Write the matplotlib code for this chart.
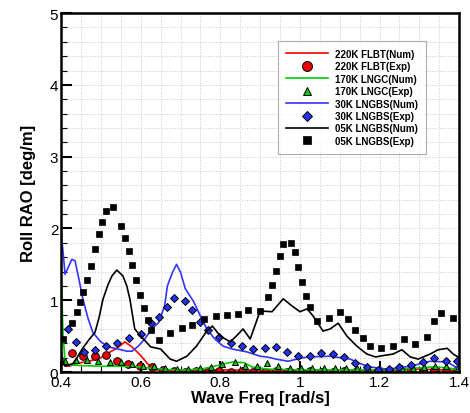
import matplotlib
matplotlib.use("Agg")
import matplotlib.pyplot as plt
from matplotlib.ticker import MultipleLocator

plt.rcParams['font.family'] = ['Liberation Sans', 'DejaVu Sans']

# 220K FLBT
flbt_num_x = [0.4, 0.405, 0.42, 0.44, 0.47, 0.5, 0.52, 0.54, 0.56, 0.578, 0.6, 0.618, 0.636,
              0.7, 0.8, 0.9, 1.0, 1.1, 1.2, 1.3, 1.4]
flbt_num_y = [0.15, 0.1, 0.08, 0.12, 0.15, 0.2, 0.27, 0.33, 0.42, 0.35, 0.23, 0.11, 0.03,
              0.02, 0.03, 0.02, 0.02, 0.03, 0.02, 0.04, 0.02]
flbt_exp_x = [0.428, 0.455, 0.485, 0.513, 0.54, 0.568, 0.598, 0.628, 0.655, 0.683, 0.712,
              0.74, 0.768, 0.797, 0.826, 0.855, 0.883, 0.912, 0.94, 0.968, 0.996, 1.025,
              1.053, 1.083, 1.11, 1.138, 1.168, 1.196, 1.224, 1.25, 1.28, 1.31, 1.337,
              1.367, 1.395]
flbt_exp_y = [0.26, 0.22, 0.22, 0.24, 0.15, 0.11, 0.08, 0.07, 0.03, 0.01, 0.0, 0.01, 0.0,
              0.02, 0.0, 0.01, 0.0, 0.0, 0.01, 0.0, 0.0, 0.02, 0.0, 0.0, 0.01, 0.0, 0.0,
              0.01, 0.02, 0.0, 0.03, 0.02, 0.03, 0.02, 0.03]

# 170K LNGC
lngc_num_x = [0.4, 0.405, 0.41, 0.42, 0.45, 0.5, 0.55, 0.6, 0.63, 0.68, 0.72, 0.76, 0.8,
              0.83, 0.86, 0.88, 0.92, 1.0, 1.1, 1.2, 1.28, 1.33, 1.37, 1.4]
lngc_num_y = [1.4, 0.5, 0.15, 0.1, 0.09, 0.08, 0.08, 0.07, 0.05, 0.03, 0.03, 0.05, 0.1,
              0.14, 0.13, 0.07, 0.04, 0.03, 0.03, 0.03, 0.05, 0.07, 0.06, 0.03]
lngc_exp_x = [0.41, 0.438, 0.465, 0.493, 0.523, 0.55, 0.578, 0.606, 0.634, 0.662, 0.69, 0.72,
              0.748, 0.776, 0.805, 0.837, 0.862, 0.893, 0.918, 0.946, 0.975, 1.003, 1.03,
              1.06, 1.088, 1.116, 1.144, 1.172, 1.2, 1.228, 1.256, 1.284, 1.312, 1.34,
              1.368, 1.396]
lngc_exp_y = [0.15, 0.17, 0.17, 0.15, 0.14, 0.14, 0.11, 0.08, 0.08, 0.05, 0.04, 0.04, 0.05,
              0.07, 0.11, 0.14, 0.09, 0.08, 0.12, 0.08, 0.06, 0.05, 0.05, 0.05, 0.06, 0.05,
              0.05, 0.04, 0.04, 0.03, 0.05, 0.06, 0.07, 0.09, 0.08, 0.06]

# 30K LNGBS
lngbs30_num_x = [0.4, 0.41, 0.418, 0.427, 0.435, 0.443, 0.455, 0.468, 0.48, 0.498, 0.518,
                 0.543, 0.565, 0.578, 0.594, 0.61, 0.628, 0.645, 0.66, 0.667, 0.68, 0.69,
                 0.7, 0.712, 0.732, 0.75, 0.766, 0.786, 0.807, 0.83, 0.867, 0.9, 0.917,
                 0.94, 0.97, 1.0, 1.02, 1.075, 1.126, 1.15, 1.176, 1.22, 1.277, 1.327,
                 1.37, 1.4]
lngbs30_num_y = [1.96, 1.36, 1.46, 1.57, 1.55, 1.34, 1.01, 0.74, 0.55, 0.43, 0.35, 0.32,
                 0.29, 0.29, 0.36, 0.46, 0.6, 0.69, 0.92, 1.2, 1.39, 1.5, 1.39, 1.16, 0.99,
                 0.78, 0.6, 0.46, 0.36, 0.32, 0.28, 0.22, 0.21, 0.18, 0.15, 0.19, 0.21,
                 0.22, 0.18, 0.12, 0.07, 0.04, 0.08, 0.15, 0.14, 0.04]
lngbs30_exp_x = [0.418, 0.438, 0.458, 0.485, 0.513, 0.54, 0.57, 0.6, 0.626, 0.646, 0.666,
                 0.684, 0.712, 0.73, 0.75, 0.768, 0.797, 0.826, 0.855, 0.883, 0.912, 0.94,
                 0.968, 0.996, 1.025, 1.053, 1.083, 1.11, 1.138, 1.168, 1.196, 1.224, 1.25,
                 1.28, 1.31, 1.337, 1.367, 1.395]
lngbs30_exp_y = [0.6, 0.42, 0.28, 0.31, 0.36, 0.40, 0.47, 0.53, 0.68, 0.77, 0.91, 1.03,
                 0.99, 0.86, 0.7, 0.58, 0.49, 0.40, 0.36, 0.32, 0.33, 0.35, 0.28, 0.22,
                 0.22, 0.26, 0.25, 0.21, 0.13, 0.07, 0.03, 0.04, 0.07, 0.1, 0.14, 0.19,
                 0.15, 0.15]

# 05K LNGBS
lngbs05_num_x = [0.4, 0.405, 0.41, 0.42, 0.43, 0.44, 0.453, 0.47, 0.485, 0.495, 0.505,
                 0.518, 0.528, 0.54, 0.555, 0.565, 0.573, 0.585, 0.6, 0.625, 0.65, 0.674,
                 0.69, 0.716, 0.74, 0.766, 0.78, 0.8, 0.825, 0.84, 0.857, 0.875, 0.9,
                 0.93, 0.958, 0.98, 1.0, 1.018, 1.033, 1.058, 1.076, 1.096, 1.118, 1.143,
                 1.168, 1.19, 1.21, 1.234, 1.256, 1.277, 1.297, 1.327, 1.347, 1.37, 1.385,
                 1.4]
lngbs05_num_y = [0.3, 0.15, 0.08, 0.1, 0.12, 0.2, 0.32, 0.45, 0.55, 0.75, 1.01, 1.22,
                 1.34, 1.42, 1.34, 1.2, 1.01, 0.6, 0.5, 0.35, 0.32, 0.18, 0.15, 0.22,
                 0.36, 0.57, 0.64, 0.5, 0.42, 0.5, 0.6, 0.46, 0.85, 0.84, 1.02, 0.92,
                 0.84, 0.88, 0.78, 0.57, 0.6, 0.68, 0.5, 0.36, 0.25, 0.21, 0.23, 0.25,
                 0.31, 0.21, 0.18, 0.25, 0.31, 0.33, 0.25, 0.2]
lngbs05_exp_x = [0.405, 0.428, 0.44, 0.447, 0.455, 0.465, 0.475, 0.485, 0.495, 0.503,
                 0.513, 0.53, 0.55, 0.56, 0.57, 0.578, 0.588, 0.598, 0.608, 0.618, 0.627,
                 0.646, 0.674, 0.703, 0.73, 0.76, 0.79, 0.817, 0.845, 0.87, 0.9, 0.92,
                 0.93, 0.94, 0.95, 0.958, 0.978, 0.988, 0.995, 1.005, 1.015, 1.025, 1.043,
                 1.073, 1.1, 1.12, 1.138, 1.158, 1.176, 1.204, 1.234, 1.262, 1.29, 1.32,
                 1.337, 1.355, 1.385]
lngbs05_exp_y = [0.46, 0.68, 0.84, 0.97, 1.11, 1.28, 1.47, 1.71, 1.92, 2.09, 2.24, 2.30,
                 2.03, 1.87, 1.69, 1.49, 1.28, 1.07, 0.89, 0.72, 0.58, 0.45, 0.54, 0.61,
                 0.65, 0.74, 0.78, 0.79, 0.81, 0.86, 0.85, 1.05, 1.21, 1.41, 1.62, 1.78,
                 1.80, 1.67, 1.46, 1.25, 1.06, 0.91, 0.71, 0.75, 0.84, 0.74, 0.58, 0.47,
                 0.36, 0.33, 0.36, 0.46, 0.39, 0.49, 0.71, 0.82, 0.75]

fig = plt.figure(figsize=(4.7, 4.14), dpi=100)
ax = fig.add_axes([0.130, 0.099, 0.847, 0.867])

lw = 1.2
ax.plot(flbt_num_x, flbt_num_y, color='#ff0000', lw=lw, label='220K FLBT(Num)')
ax.plot(flbt_exp_x, flbt_exp_y, 'o', ms=5.5, mfc='#ee0000', mec='black', mew=0.7,
        label='220K FLBT(Exp)')
ax.plot(lngc_num_x, lngc_num_y, color='#00cc00', lw=lw, label='170K LNGC(Num)')
ax.plot(lngc_exp_x, lngc_exp_y, '^', ms=4, mfc='#00cc00', mec='black', mew=0.7,
        label='170K LNGC(Exp)')
ax.plot(lngbs30_num_x, lngbs30_num_y, color='#3333ff', lw=lw, label='30K LNGBS(Num)')
ax.plot(lngbs30_exp_x, lngbs30_exp_y, 'D', ms=4.3, mfc='#2233ee', mec='black', mew=0.7,
        label='30K LNGBS(Exp)')
ax.plot(lngbs05_num_x, lngbs05_num_y, color='black', lw=lw, label='05K LNGBS(Num)')
ax.plot(lngbs05_exp_x, lngbs05_exp_y, 's', ms=4.5, mfc='black', mec='black', mew=0.5,
        label='05K LNGBS(Exp)')

ax.set_xlim(0.4, 1.4)
ax.set_ylim(0, 5)
ax.xaxis.set_minor_locator(MultipleLocator(0.05))
ax.yaxis.set_major_locator(MultipleLocator(1))
ax.yaxis.set_minor_locator(MultipleLocator(0.2))
ax.set_xticks([0.4, 0.6, 0.8, 1.0, 1.2, 1.4], ['0.4', '0.6', '0.8', '1', '1.2', '1.4'])
ax.tick_params(which='major', direction='in', length=8, width=1.5, labelsize=11, pad=2)
ax.tick_params(which='minor', direction='in', length=4, width=0.8)
ax.grid(True, which='both', color='#c8c8c8', linestyle=':', linewidth=0.7)
ax.set_axisbelow(True)
for s in ax.spines.values():
    s.set_linewidth(1.8)

ax.set_xlabel('Wave Freq [rad/s]', fontsize=12, fontweight='bold', labelpad=1)
ax.set_ylabel('Roll RAO [deg/m]', fontsize=12, fontweight='bold', labelpad=10)

leg = ax.legend(loc='upper right', bbox_to_anchor=(0.917, 0.922), borderaxespad=0,
                fancybox=False, prop={'size': 7, 'weight': 'bold'}, handlelength=4.3,
                handletextpad=0.8, labelspacing=0.25, borderpad=0.8, numpoints=1,
                markerscale=1.3)
leg.get_frame().set_edgecolor('#999999')
leg.get_frame().set_linewidth(0.8)

fig.savefig('out.png', dpi=100)
